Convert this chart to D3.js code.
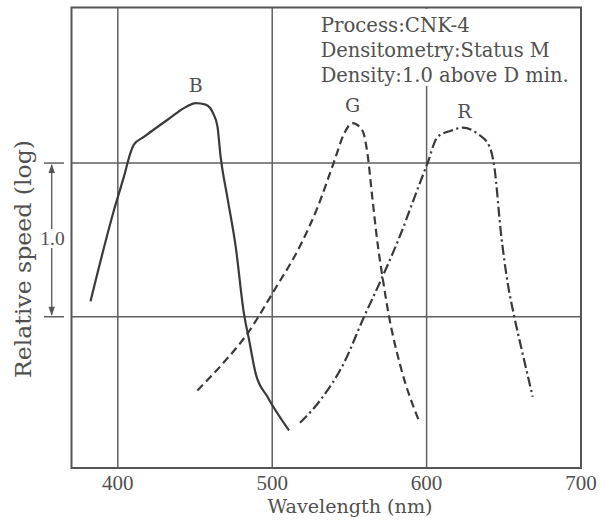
<!DOCTYPE html>
<html><head><meta charset="utf-8">
<script src="https://cdn.jsdelivr.net/npm/d3@7"></script>
<style>body{margin:0;background:#fff}</style>
</head><body>
<svg id="c" width="610" height="521"></svg>
<script>
// Wavelength (nm) and relative speed (log units)
const blueWl  = [382.3, 397.4, 403.9, 408.3, 410.4, 416.9, 432.0, 445.0, 450.4, 456.9, 461.9, 464.5, 466.6, 470.9, 476.3, 481.7, 485.0, 489.3, 496.9, 510.9];
const blueVal = [0.10, 0.69, 0.91, 1.07, 1.12, 1.17, 1.28, 1.37, 1.39, 1.38, 1.32, 1.24, 1.04, 0.78, 0.46, 0.02, -0.15, -0.37, -0.52, -0.74];
const greenWl  = [451.5, 466.6, 483.9, 501.2, 518.5, 529.3, 540.1, 546.5, 552.0, 558.5, 561.7, 565.0, 568.2, 571.4, 575.7, 583.3, 595.2];
const greenVal = [-0.48, -0.32, -0.11, 0.17, 0.47, 0.71, 1.01, 1.19, 1.26, 1.21, 1.06, 0.76, 0.48, 0.26, 0.00, -0.33, -0.68];
const redWl  = [518.0, 531.4, 546.5, 559.5, 571.4, 583.3, 593.0, 600.6, 607.1, 615.7, 623.3, 633.1, 640.6, 643.8, 648.2, 652.5, 656.8, 662.2, 668.7];
const redVal = [-0.69, -0.54, -0.30, 0.00, 0.26, 0.54, 0.80, 1.00, 1.17, 1.21, 1.23, 1.19, 1.11, 0.98, 0.54, 0.22, 0.00, -0.24, -0.52];
const seriesNames = ["B", "G", "R"];
const labelWl  = [450.5, 552.0, 624.5];
const labelVal = [1.46, 1.33, 1.29];
const xTicks = [400, 500, 600, 700];
const yGrid = [0, 1];
const notes = ["Process:CNK-4", "Densitometry:Status M", "Density:1.0 above D min."];
const xTitle = "Wavelength (nm)";
const yTitle = "Relative speed (log)";
const bracketLabel = "1.0";

const svg = d3.select("#c");
const L = 71.5, R = 581, T = 7.5, B = 468;
const x = d3.scaleLinear().domain([370, 700]).range([L, R]);
const y = d3.scaleLinear().domain([-0.984, 2.012]).range([B, T]);
const ink = "#3a3a3a", txt = "#505050", grid = "#606060";
const serif = "'DejaVu Serif', serif";
const times = "'Liberation Serif', serif";

svg.append("rect").attr("width", 610).attr("height", 521).attr("fill", "#fff");

// grid
svg.append("g").selectAll("line").data(xTicks.slice(0, 3)).join("line")
  .attr("x1", d => x(d)).attr("x2", d => x(d)).attr("y1", T).attr("y2", B)
  .attr("stroke", grid).attr("stroke-width", 1.5);
svg.append("g").selectAll("line").data(yGrid).join("line")
  .attr("x1", L).attr("x2", R).attr("y1", d => y(d)).attr("y2", d => y(d))
  .attr("stroke", grid).attr("stroke-width", 1.5);

// notes box (white background hides grid)
svg.append("rect").attr("x", 314).attr("y", T + 1.5).attr("width", R - 316).attr("height", 77).attr("fill", "#fff");
const noteLens = [149, 229, 248];
svg.append("g").selectAll("text").data(notes).join("text")
  .attr("x", 320.7).attr("y", (d, i) => 32.3 + i * 24.7)
  .attr("font-family", serif).attr("font-size", 19.5).attr("fill", txt)
  .attr("textLength", (d, i) => noteLens[i]).attr("lengthAdjust", "spacingAndGlyphs")
  .text(d => d);

// frame
svg.append("rect").attr("x", L).attr("y", T).attr("width", R - L).attr("height", B - T)
  .attr("fill", "none").attr("stroke", "#555").attr("stroke-width", 2);

// x tick labels
svg.append("g").selectAll("text").data(xTicks).join("text")
  .attr("x", d => x(d)).attr("y", 490).attr("text-anchor", "middle")
  .attr("font-family", times).attr("font-size", 21).attr("fill", txt).text(d => d);

// titles
svg.append("text").attr("x", 350).attr("y", 513).attr("text-anchor", "middle")
  .attr("font-family", serif).attr("font-size", 19).attr("fill", txt)
  .attr("textLength", 165).attr("lengthAdjust", "spacingAndGlyphs").text(xTitle);
svg.append("text").attr("transform", "translate(31,259) rotate(-90)").attr("text-anchor", "middle")
  .attr("font-family", serif).attr("font-size", 22).attr("fill", txt)
  .attr("textLength", 238).attr("lengthAdjust", "spacingAndGlyphs").text(yTitle);

// 1.0 bracket
const bx = 51.7;
svg.append("g").selectAll("line").data(yGrid).join("line")
  .attr("x1", 44).attr("x2", 64).attr("y1", d => y(d)).attr("y2", d => y(d))
  .attr("stroke", grid).attr("stroke-width", 1.5);
svg.append("line").attr("x1", bx).attr("x2", bx).attr("y1", y(1) + 2).attr("y2", y(0) - 2)
  .attr("stroke", grid).attr("stroke-width", 1.4);
svg.append("path").attr("d", `M${bx},${y(1) + 1} L${bx - 3.2},${y(1) + 10} L${bx + 3.2},${y(1) + 10} Z`).attr("fill", "#555");
svg.append("path").attr("d", `M${bx},${y(0) - 1} L${bx - 3.2},${y(0) - 10} L${bx + 3.2},${y(0) - 10} Z`).attr("fill", "#555");
svg.append("rect").attr("x", 42).attr("y", 229).attr("width", 21).attr("height", 19).attr("fill", "#fff");
svg.append("text").attr("x", 52.5).attr("y", 245).attr("text-anchor", "middle")
  .attr("font-family", times).attr("font-size", 19.5).attr("fill", txt).text(bracketLabel);

// curves
const line = d3.line().x(d => x(d[0])).y(d => y(d[1])).curve(d3.curveMonotoneX);
const series = [
  {wl: blueWl, val: blueVal, dash: null},
  {wl: greenWl, val: greenVal, dash: "8,4.5"},
  {wl: redWl, val: redVal, dash: "10,3.5,2.2,3.5"}
];
svg.append("g").selectAll("path").data(series).join("path")
  .attr("d", s => line(d3.zip(s.wl, s.val)))
  .attr("fill", "none").attr("stroke", ink).attr("stroke-width", 2.2)
  .attr("stroke-linecap", "butt").attr("stroke-linejoin", "round")
  .attr("stroke-dasharray", s => s.dash);

// series labels
svg.append("g").selectAll("text").data(seriesNames).join("text")
  .attr("x", (d, i) => x(labelWl[i])).attr("y", (d, i) => y(labelVal[i]))
  .attr("text-anchor", "middle").attr("font-family", serif).attr("font-size", 19)
  .attr("fill", txt).text(d => d);
</script>
</body></html>
